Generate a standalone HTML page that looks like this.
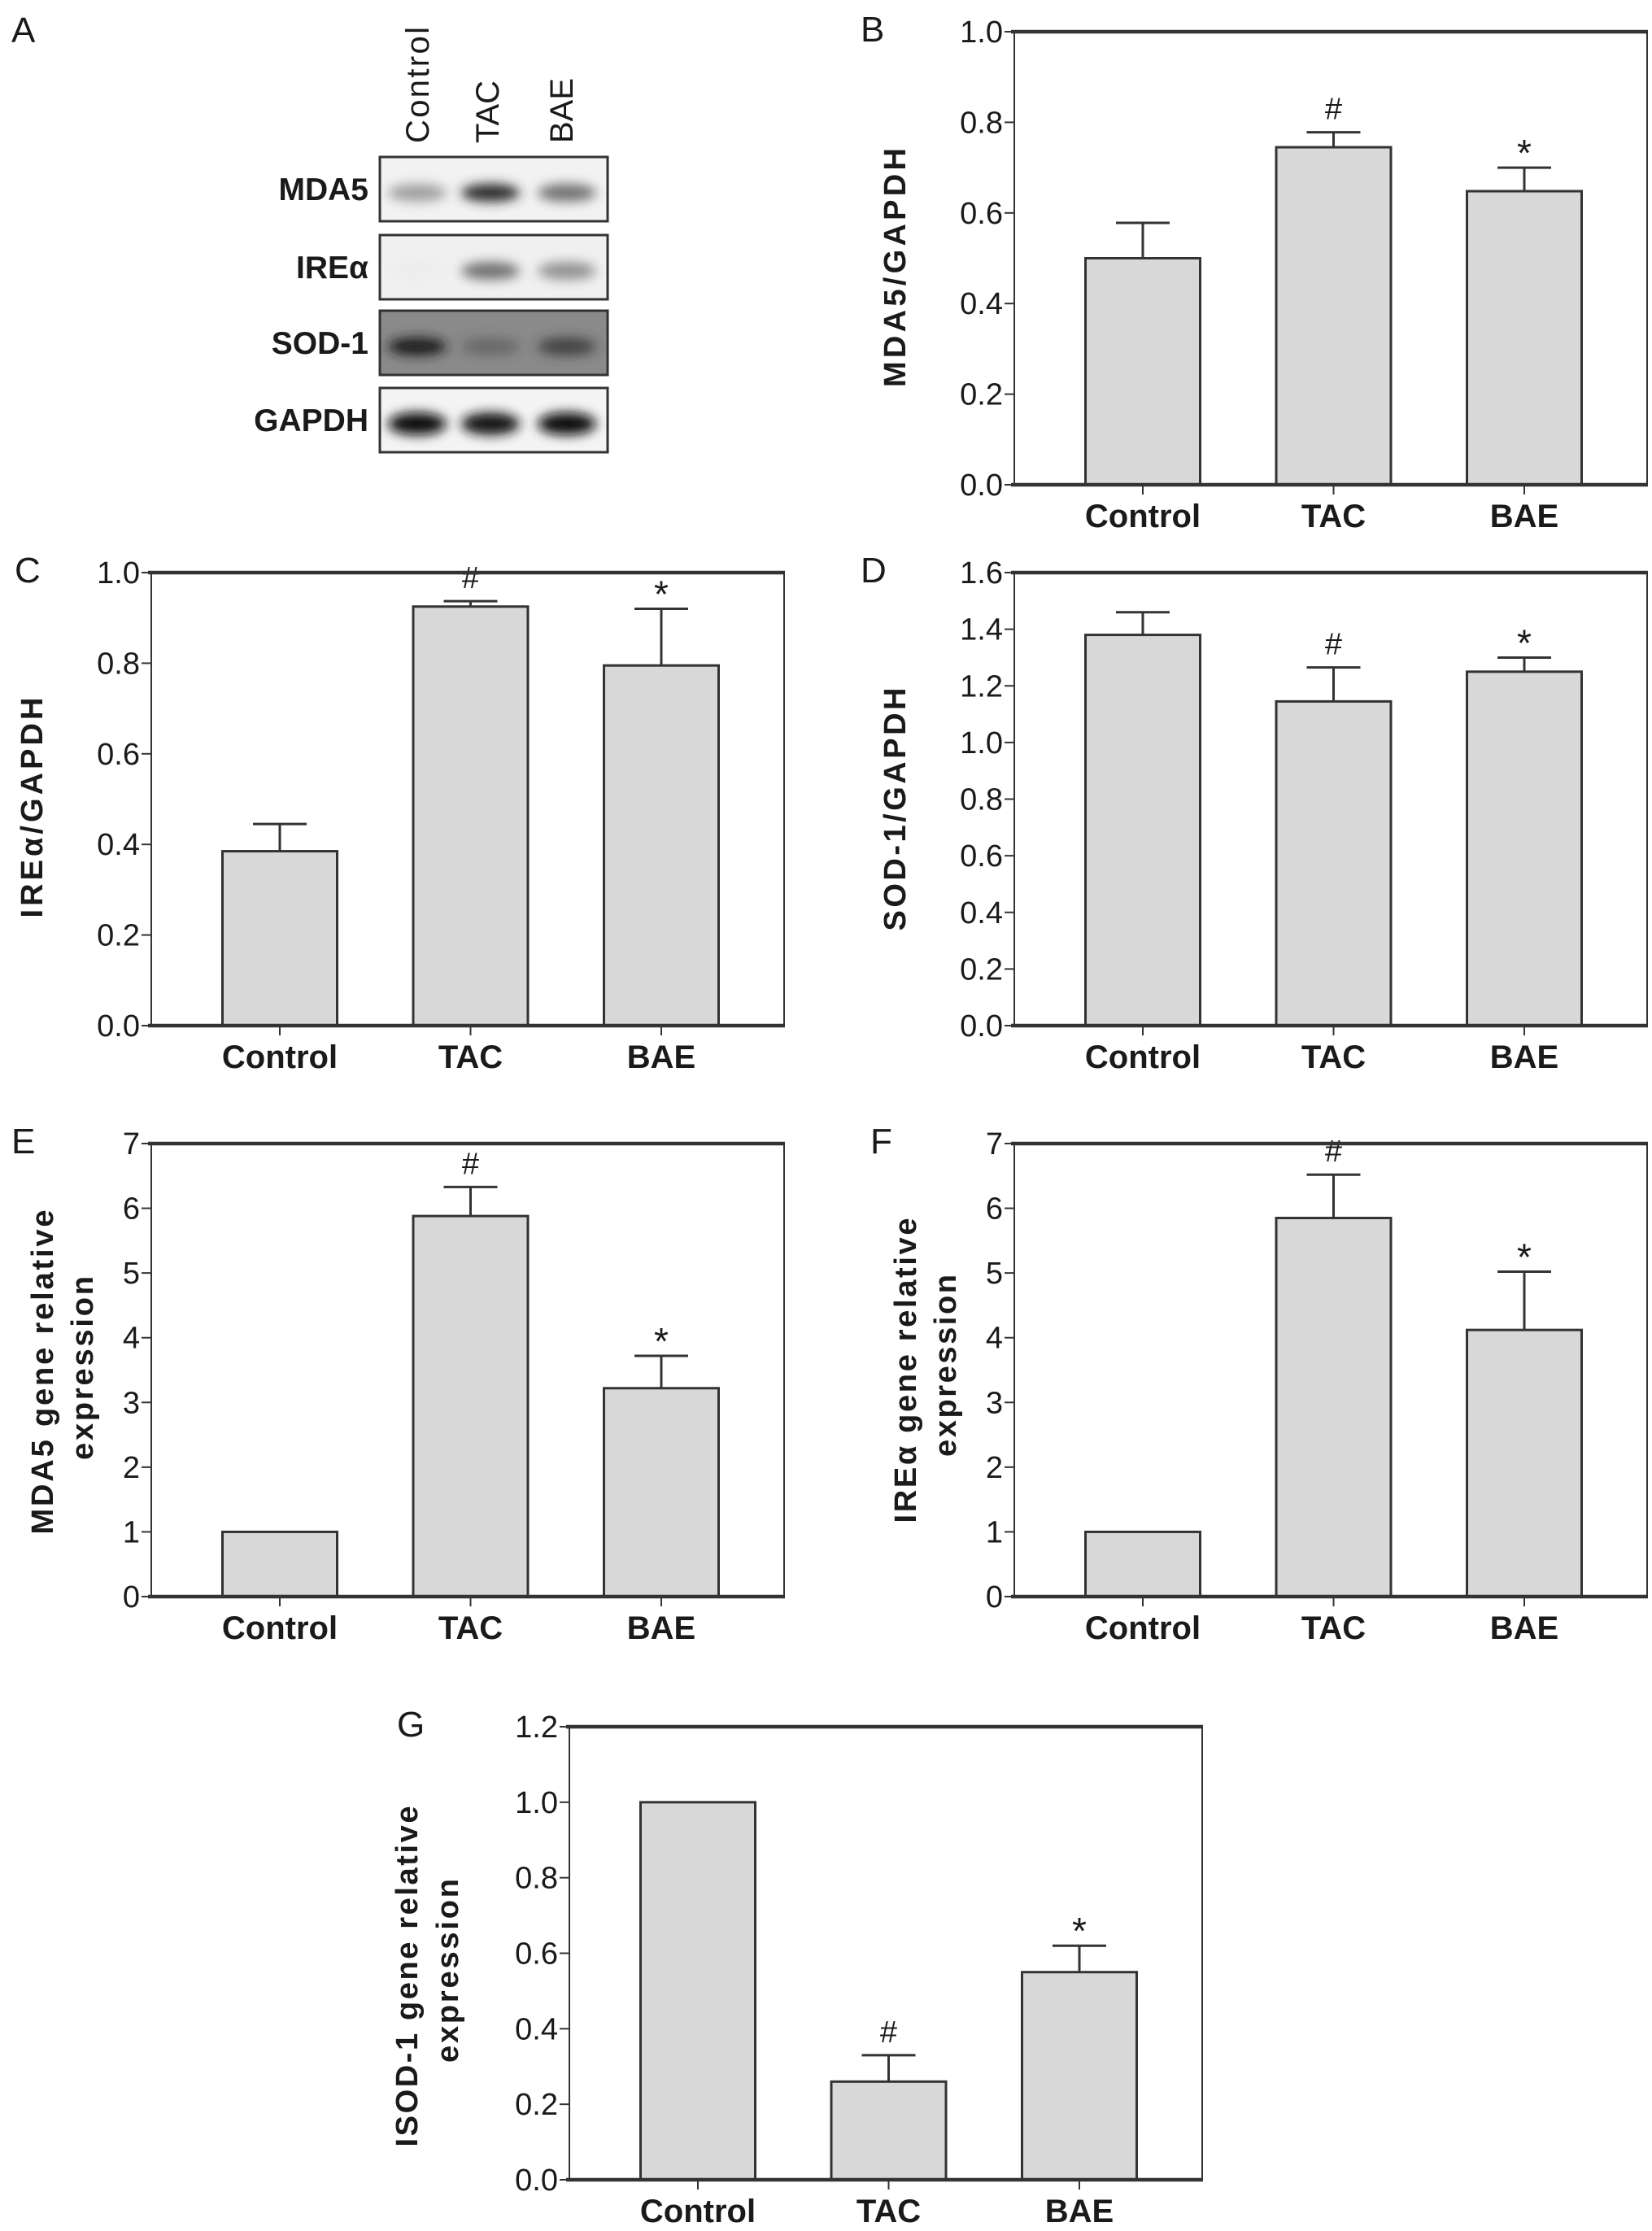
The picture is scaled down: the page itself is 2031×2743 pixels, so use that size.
<!DOCTYPE html>
<html><head><meta charset="utf-8"><style>
html,body{margin:0;padding:0;background:#fff;}
svg{display:block;}
text{font-family:"Liberation Sans",sans-serif;fill:#1a1a1a;}
</style></head><body>
<svg id="fig" width="2031" height="2743" viewBox="0 0 2031 2743" xmlns="http://www.w3.org/2000/svg">
<defs>
<filter id="blur" x="-30%" y="-100%" width="160%" height="300%"><feGaussianBlur stdDeviation="7"/></filter>
</defs>
<g id="blot">
<text x="14" y="52" font-size="44">A</text>
<text transform="translate(527,176) rotate(-90)" font-size="40" textLength="143">Control</text>
<text transform="translate(613,176) rotate(-90)" font-size="40">TAC</text>
<text transform="translate(704,176) rotate(-90)" font-size="40">BAE</text>
</g>
<g id="charts"></g>
</svg>
<script>
// Western blot rows
const blotRows = ["MDA5", "IREα", "SOD-1", "GAPDH"];
const blotBg = ["#f2f2f2", "#f0f0f0", "#8a8a8a", "#f4f4f4"];
const blotIntensity = [[0.45, 0.85, 0.6], [0.02, 0.6, 0.5], [0.8, 0.2, 0.5], [1, 0.95, 1]];

// Panel B
const catsB = ["Control", "TAC", "BAE"];
const valsB = [0.50, 0.745, 0.648];
const errB = [0.078, 0.033, 0.052];
const ticksB = ["0.0", "0.2", "0.4", "0.6", "0.8", "1.0"];
// Panel C
const valsC = [0.385, 0.925, 0.795];
const errC = [0.06, 0.012, 0.125];
const ticksC = ["0.0", "0.2", "0.4", "0.6", "0.8", "1.0"];
// Panel D
const valsD = [1.38, 1.145, 1.25];
const errD = [0.08, 0.12, 0.05];
const ticksD = ["0.0", "0.2", "0.4", "0.6", "0.8", "1.0", "1.2", "1.4", "1.6"];
// Panel E
const valsE = [1.0, 5.88, 3.22];
const errE = [0, 0.45, 0.5];
const ticksE = ["0", "1", "2", "3", "4", "5", "6", "7"];
// Panel F
const valsF = [1.0, 5.85, 4.12];
const errF = [0, 0.67, 0.9];
const ticksF = ["0", "1", "2", "3", "4", "5", "6", "7"];
// Panel G
const valsG = [1.0, 0.26, 0.55];
const errG = [0, 0.07, 0.07];
const ticksG = ["0.0", "0.2", "0.4", "0.6", "0.8", "1.0", "1.2"];
const marksAll = ["", "#", "*"];

const NS = "http://www.w3.org/2000/svg";
function mk(tag, attrs, parent) {
  const e = document.createElementNS(NS, tag);
  for (const k in attrs) e.setAttribute(k, attrs[k]);
  parent.appendChild(e);
  return e;
}

// blot drawing
const blotG = document.getElementById('blot');
const rowTops = [193, 289, 382, 477];
const laneX = [513, 603, 697];
blotRows.forEach((name, i) => {
  const y = rowTops[i];
  const lbl = mk('text', {x: 453, y: y + 53, 'font-size': 39, 'font-weight': 'bold', 'text-anchor': 'end', fill: '#333'}, blotG);
  
  
  lbl.textContent = name;
  const r = mk('rect', {x: 467, y: y, width: 280, height: 79, fill: blotBg[i], stroke: '#333', 'stroke-width': 3}, blotG);
  
  
  blotIntensity[i].forEach((v, j) => {
    const dark = i === 2 ? 90 - 80 * v : 235 - 225 * v;
    const e = mk('ellipse', {cx: laneX[j], cy: y + 44, rx: 36, ry: i === 3 ? 14 : 11, fill: `rgb(${dark|0},${dark|0},${dark|0})`, opacity: Math.min(1, 0.3 + v), filter: 'url(#blur)'}, blotG);
    
    
  });
});

const charts = document.getElementById('charts');
function panel(cfg) {
  const g = mk('g', {}, charts);
  
  
  const L = cfg.L, T = cfg.T, W = 778, H = 557, B = T + H;
  const max = parseFloat(cfg.ticks[cfg.ticks.length - 1]);
  const yS = v => B - v / max * H;
  const xC = i => L + 158 + i * 234.5;
  const pl = mk('text', {x: cfg.letterX, y: T + 12, 'font-size': 44}, g);
  
  
  pl.textContent = cfg.id.toUpperCase();
  cfg.vals.forEach((v, i) => {
    const x = xC(i);
    const top = yS(v);
    const b = mk('rect', {x: x - 70.5, y: top, width: 141, height: B - top, fill: '#d8d8d8', stroke: '#333', 'stroke-width': 3}, g);
    
    
    if (cfg.err[i] > 0) {
      const et = yS(v + cfg.err[i]);
      const el = mk('path', {d: `M${x},${top} V${et} M${x - 33},${et} H${x + 33}`, stroke: '#333', 'stroke-width': 3, fill: 'none'}, g);
      
      
      if (marksAll[i]) {
        const m = mk('text', {x: x, y: et - (marksAll[i] === '#' ? 16 : 2), 'font-size': marksAll[i] === '#' ? 38 : 46, 'text-anchor': 'middle', 'font-family': '"Liberation Serif",serif'}, g);
        
        
        m.textContent = marksAll[i];
      }
    }
    const tk = mk('line', {x1: x, x2: x, y1: B, y2: B + 12, stroke: '#333', 'stroke-width': 2}, g);
    
    
    const cl = mk('text', {x: x, y: B + 52, 'font-size': 40, 'text-anchor': 'middle', 'font-weight': 'bold', fill: '#333'}, g);
    
    
    cl.textContent = cfg.cats[i];
  });
  const fr = mk('path', {d: `M${L},${T} V${B} M${L + W},${T} V${B}`, stroke: '#333', 'stroke-width': 2, fill: 'none'}, g);
  
  
  const ax = mk('path', {d: `M${L - 4},${T} H${L + W + 1} M${L - 4},${B} H${L + W + 1}`, stroke: '#333', 'stroke-width': 4.5, fill: 'none'}, g);
  
  
  cfg.ticks.forEach(t => {
    const y = yS(parseFloat(t));
    const tl = mk('line', {x1: L - 12, x2: L, y1: y, y2: y, stroke: '#333', 'stroke-width': 2}, g);
    
    
    const tt = mk('text', {x: L - 14, y: y + 13, 'font-size': 38, 'text-anchor': 'end', fill: '#333'}, g);
    
    
    tt.textContent = t;
  });
  cfg.title.forEach((line, k) => {
    const tt = mk('text', {transform: `translate(${cfg.titleX[k] + 13},${cfg.titleY[k]}) rotate(-90)`, 'font-size': 38, 'font-weight': 'bold', 'text-anchor': 'middle', textLength: cfg.titleLen[k], lengthAdjust: 'spacing', fill: '#333'}, g);
    
    
    tt.textContent = line;
  });
}
panel({id: 'b', L: 1247, T: 39, letterX: 1058, vals: valsB, err: errB, ticks: ticksB, cats: catsB, title: ["MDA5/GAPDH"], titleX: [1100], titleY: [329], titleLen: [294]});
panel({id: 'c', L: 186, T: 704, letterX: 18, vals: valsC, err: errC, ticks: ticksC, cats: catsB, title: ["IREα/GAPDH"], titleX: [39], titleY: [993], titleLen: [271]});
panel({id: 'd', L: 1247, T: 704, letterX: 1058, vals: valsD, err: errD, ticks: ticksD, cats: catsB, title: ["SOD-1/GAPDH"], titleX: [1100], titleY: [995], titleLen: [299]});
panel({id: 'e', L: 186, T: 1406, letterX: 14, vals: valsE, err: errE, ticks: ticksE, cats: catsB, title: ["MDA5 gene relative", "expression"], titleX: [52, 101], titleY: [1687, 1682], titleLen: [399, 226]});
panel({id: 'f', L: 1247, T: 1406, letterX: 1070, vals: valsF, err: errF, ticks: ticksF, cats: catsB, title: ["IREα gene relative", "expression"], titleX: [1113, 1162], titleY: [1685, 1679], titleLen: [375, 224]});
panel({id: 'g', L: 700, T: 2123, letterX: 488, vals: valsG, err: errG, ticks: ticksG, cats: catsB, title: ["ISOD-1 gene relative", "expression"], titleX: [500, 550], titleY: [2430, 2423], titleLen: [419, 226]});
</script>
</body></html>
